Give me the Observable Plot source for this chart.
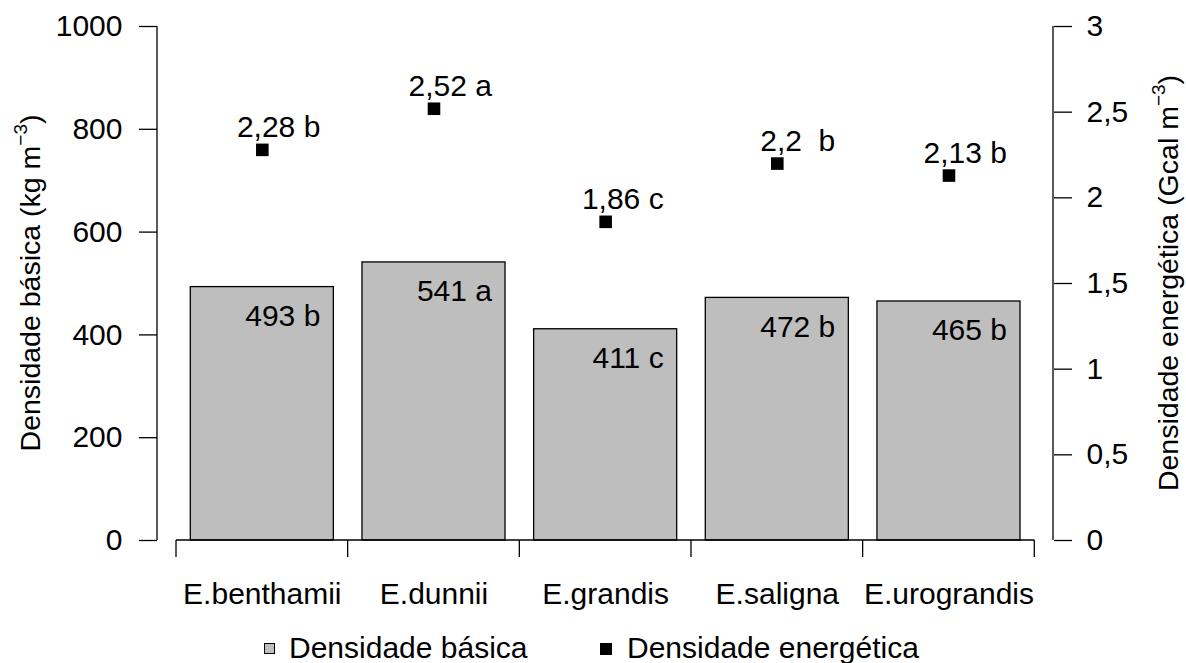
<!DOCTYPE html>
<html>
<head>
<meta charset="utf-8">
<script src="https://cdn.jsdelivr.net/npm/d3@7"></script>
<script src="https://cdn.jsdelivr.net/npm/@observablehq/plot@0.6"></script>
<style>
  html, body { margin: 0; padding: 0; background: #fff; }
  body { width: 1186px; height: 663px; overflow: hidden; font-family: "Liberation Sans", Arial, Helvetica, sans-serif; }
  #chart svg { display: block; }
  #legend { position: relative; width: 1186px; height: 43px; font-size: 30px; color: #000; }
  #legend .sw { position: absolute; box-sizing: border-box; border: 1px solid #000; }
  #legend .lb { position: absolute; white-space: pre; line-height: 1; }
</style>
</head>
<body>
<div id="chart"></div>
<div id="legend"></div>
<script>
// ---- data ----
const species = ["E.benthamii", "E.dunnii", "E.grandis", "E.saligna", "E.urograndis"];
const basicDensity = [493, 541, 411, 472, 465];
const basicLetters = ["b", "a", "c", "b", "b"];
const energyDensity = [2.28, 2.52, 1.86, 2.2, 2.13];
const energyLetters = ["b", "a", "c", "b", "b"];
const leftTicks = [0, 200, 400, 600, 800, 1000];
const rightTicks = [0, 0.5, 1, 1.5, 2, 2.5, 3];
const seriesNames = ["Densidade básica", "Densidade energética"];
const leftTitle = ["Densidade básica (kg m", "\u22123", ")"];
const rightTitle = ["Densidade energética (Gcal m", "\u22123", ")"];
const leftMax = 1000, rightMax = 3;

// ---- helpers ----
const toLeft = v => v * leftMax / rightMax;
const comma = v => String(v).replace(".", ",");
const FONT = "'Liberation Sans', Arial, Helvetica, sans-serif";
const FS = 30;
const TITLE_FS = 28.5;
const BAR_FILL = "#bebebe";

const rows = species.map((s, i) => ({
  species: s,
  basic: basicDensity[i],
  basicLabel: `${basicDensity[i]} ${basicLetters[i]}`,
  energy: toLeft(energyDensity[i]),
  energyLabel: comma(energyDensity[i]).padEnd(4, "\u00a0") + " " + energyLetters[i]
}));

function axesAndTitles(index, scales, values, dims) {
  const x = scales.x, y = scales.y;
  const g = d3.create("svg:g");
  const lines = g.append("g").attr("stroke", "#000").attr("stroke-width", 1.3).attr("fill", "none");
  const left = dims.marginLeft, right = dims.width - dims.marginRight;
  const y0 = y(0), y1 = y(leftMax);
  lines.append("line").attr("x1", left).attr("x2", left).attr("y1", y0).attr("y2", y1);
  lines.append("line").attr("x1", right).attr("x2", right).attr("y1", y0).attr("y2", y1);
  const step = x.step(), bw = x.bandwidth();
  const gap = (step - bw) / 2;
  const edges = species.map(s => x(s) - gap).concat([x(species[species.length - 1]) + bw + gap]);
  lines.append("line").attr("x1", edges[0]).attr("x2", edges[edges.length - 1]).attr("y1", y0).attr("y2", y0);
  for (const e of edges) lines.append("line").attr("x1", e).attr("x2", e).attr("y1", y0).attr("y2", y0 + 17);
  const cy = (y0 + y1) / 2;
  function title(parts, tx) {
    const t = g.append("text")
      .attr("transform", `translate(${tx},${cy}) rotate(-90)`)
      .attr("text-anchor", "middle")
      .attr("font-size", TITLE_FS)
      .attr("fill", "#000");
    t.append("tspan").text(parts[0]);
    t.append("tspan").attr("font-size", 19).attr("dy", -13).text(parts[1]);
    t.append("tspan").attr("dy", 13).text(parts[2]);
  }
  title(leftTitle, left - 117.5);
  title(rightTitle, right + 124.5);
  return g.node();
}

const chart = Plot.plot({
  width: 1186,
  height: 620,
  marginLeft: 157,
  marginRight: 133,
  marginTop: 26,
  marginBottom: 80,
  style: { fontFamily: FONT, fontSize: FS + "px", color: "#000", background: "#fff", overflow: "visible" },
  x: { type: "band", domain: species, range: [176, 1034.3], paddingInner: 1 / 6, paddingOuter: 1 / 12, round: false, label: null },
  y: { domain: [0, leftMax], label: null },
  marks: [
    Plot.barY(rows, { x: "species", y: "basic", fill: BAR_FILL, stroke: "#000", strokeWidth: 1.3 }),
    Plot.dot(rows, { x: "species", y: "energy", symbol: "square", r: 7.1, fill: "#000", stroke: "none" }),
    Plot.text(rows, { x: "species", y: "basic", text: "basicLabel", textAnchor: "end", lineAnchor: "bottom", dx: 58, dy: 39, fill: "#000" }),
    Plot.text(rows, { x: "species", y: "energy", text: "energyLabel", textAnchor: "end", lineAnchor: "bottom", dx: 58, dy: -12.5, fill: "#000" }),
    Plot.axisY({ ticks: leftTicks, anchor: "left", tickSize: 18, tickPadding: 17, tickFormat: d => String(d), label: null, strokeWidth: 1.3 }),
    Plot.axisY({ ticks: rightTicks.map(toLeft), anchor: "right", tickSize: 18, tickPadding: 15,
      tickFormat: d => comma(Math.round(d * rightMax / leftMax * 10) / 10), label: null, strokeWidth: 1.3 }),
    Plot.axisX({ tickSize: 0, tickPadding: 42, label: null }),
    axesAndTitles
  ]
});
document.getElementById("chart").append(chart);

// ---- legend ----
const legend = d3.select("#legend");
const items = [
  { name: seriesNames[0], fill: BAR_FILL, sx: 264, size: 11, tx: 289 },
  { name: seriesNames[1], fill: "#000", sx: 600, size: 12, tx: 627 }
];
for (const it of items) {
  legend.append("div").attr("class", "sw")
    .style("left", it.sx + "px").style("top", (28.5 - it.size / 2) + "px")
    .style("width", it.size + "px").style("height", it.size + "px")
    .style("background", it.fill);
  legend.append("div").attr("class", "lb").style("left", it.tx + "px").style("top", "13px").text(it.name);
}
</script>
</body>
</html>
